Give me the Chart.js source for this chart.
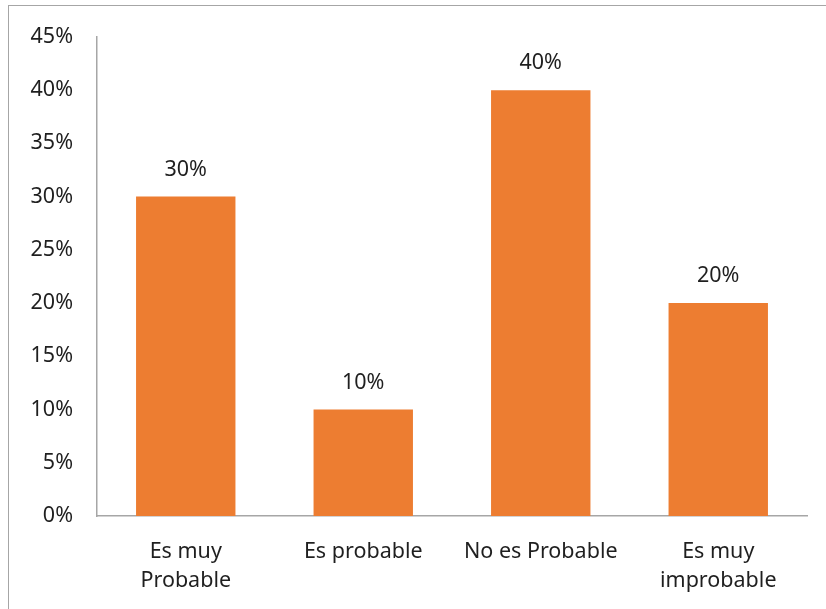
<!DOCTYPE html>
<html>
<head>
<meta charset="utf-8">
<script src="https://cdn.jsdelivr.net/npm/chart.js@4/dist/chart.umd.min.js"></script>
<style>
  html, body { margin: 0; padding: 0; background: #fff; }
  #wrap { position: relative; width: 826px; height: 609px; overflow: hidden; }
  #frame { position: absolute; left: 8px; top: 5px; width: 830px; height: 620px;
           border: 1px solid #a6a6a6; box-sizing: border-box; pointer-events: none; }
  canvas { position: absolute; left: 0; top: 0; }
</style>
</head>
<body>
<div id="wrap">
  <canvas id="c" width="826" height="609"></canvas>
  <div id="frame"></div>
</div>
<script>
// Survey answers and their shares (percent)
const categories = [["Es muy", "Probable"], "Es probable", "No es Probable", ["Es muy", "improbable"]];
const shares = [30, 10, 40, 20];
const yTicks = [0, 5, 10, 15, 20, 25, 30, 35, 40, 45];

const FONT = "'Noto Sans', 'Open Sans', sans-serif";
const TEXT = '#1f1f1f';

// Writes each bar's value above it
const valueLabels = {
  id: 'valueLabels',
  afterDatasetsDraw(chart) {
    const ctx = chart.ctx;
    const meta = chart.getDatasetMeta(0);
    ctx.save();
    ctx.font = '21.5px ' + FONT;
    ctx.fillStyle = TEXT;
    ctx.textAlign = 'center';
    ctx.textBaseline = 'middle';
    meta.data.forEach((bar, i) => {
      ctx.fillText(shares[i] + '%', bar.x, bar.y - 27);
    });
    ctx.restore();
  }
};

new Chart(document.getElementById('c'), {
  type: 'bar',
  data: {
    labels: categories,
    datasets: [{
      data: shares,
      backgroundColor: '#ED7D31',
      borderWidth: 0,
      barPercentage: 1,
      categoryPercentage: 0.56
    }]
  },
  options: {
    responsive: false,
    animation: false,
    layout: { padding: { left: 0, top: 34, right: 19, bottom: 0 } },
    plugins: { legend: { display: false }, tooltip: { enabled: false } },
    scales: {
      x: {
        grid: { display: false, drawTicks: false },
        border: { display: true, color: '#a6a6a6', width: 1.5 },
        ticks: { font: { family: FONT, size: 21.5, lineHeight: 1.36 }, color: TEXT, padding: 21,
                 maxRotation: 0, autoSkip: false },
        afterFit(scale) { scale.height = 93; }
      },
      y: {
        min: 0, max: 45,
        afterBuildTicks(scale) { scale.ticks = yTicks.map(v => ({ value: v })); },
        grid: { display: false, drawTicks: false },
        border: { display: true, color: '#a6a6a6', width: 1.5 },
        ticks: { font: { family: FONT, size: 21.5 }, color: TEXT, padding: 24,
                 callback: v => v + '%' },
        afterFit(scale) { scale.width = 97; }
      }
    }
  },
  plugins: [valueLabels]
});
</script>
</body>
</html>
